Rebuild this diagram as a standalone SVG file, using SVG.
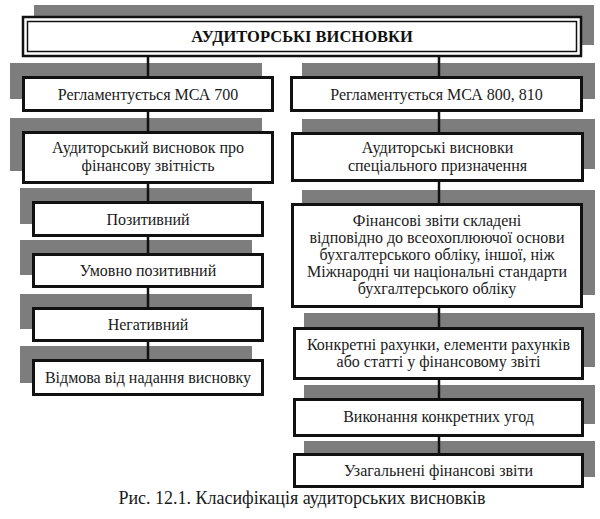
<svg xmlns="http://www.w3.org/2000/svg" width="600" height="519" viewBox="0 0 600 519">
<style>
.sh{fill:#7d7d7d}
.bx{fill:#fff;stroke:#111;stroke-width:3}
text{font-family:'Liberation Serif','Times New Roman',Tinos,'DejaVu Serif','Noto Serif',serif;fill:#1a1a1a;text-anchor:middle}
.t{font-size:16px}
.tb{font-size:16.5px;font-weight:bold;fill:#111}
.cap{font-size:18px}
.ln{stroke:#111;stroke-width:2.5;fill:none}
</style>
<rect width="600" height="519" fill="#fff"/>
<g id="shadows">
<rect class="sh" x="34" y="5" width="560" height="40"/>
<rect class="sh" x="10" y="63" width="252" height="36"/>
<rect class="sh" x="10" y="118" width="252" height="53"/>
<rect class="sh" x="20" y="188" width="232" height="36"/>
<rect class="sh" x="20" y="240" width="232" height="35"/>
<rect class="sh" x="20" y="294" width="232" height="35"/>
<rect class="sh" x="20" y="346" width="232" height="37"/>
<rect class="sh" x="302" y="63" width="293" height="36"/>
<rect class="sh" x="302" y="119" width="293" height="50"/>
<rect class="sh" x="302" y="190" width="293" height="105"/>
<rect class="sh" x="304" y="313" width="291" height="54"/>
<rect class="sh" x="304" y="385" width="291" height="39"/>
<rect class="sh" x="304" y="441" width="291" height="36"/>
</g>
<g id="connectors">
<line class="ln" x1="148" y1="56" x2="148" y2="76"/>
<line class="ln" x1="148" y1="112" x2="148" y2="131"/>
<line class="ln" x1="148" y1="184" x2="148" y2="201"/>
<line class="ln" x1="148" y1="237" x2="148" y2="253"/>
<line class="ln" x1="148" y1="288" x2="148" y2="307"/>
<line class="ln" x1="148" y1="342" x2="148" y2="359"/>
<line class="ln" x1="439" y1="56" x2="439" y2="76"/>
<line class="ln" x1="439" y1="112" x2="439" y2="132"/>
<line class="ln" x1="439" y1="182" x2="439" y2="203"/>
<line class="ln" x1="439" y1="308" x2="439" y2="327"/>
<line class="ln" x1="439" y1="380" x2="439" y2="398"/>
<line class="ln" x1="439" y1="437" x2="439" y2="453"/>
</g>
<g id="title">
<rect x="23" y="17" width="558" height="39" fill="#fff" stroke="#111" stroke-width="2.5"/>
<rect x="27.5" y="21.5" width="549" height="30" fill="none" stroke="#111" stroke-width="1.5"/>
<text class="tb" x="302" y="42">АУДИТОРСЬКІ ВИСНОВКИ</text>
</g>
<g id="l1"><rect class="bx" x="23.5" y="77.5" width="249" height="33"/><text class="t" x="148" y="99.5">Регламентується МСА 700</text></g>
<g id="l2"><rect class="bx" x="23.5" y="132.5" width="249" height="50"/><text class="t" x="148" y="153">Аудиторський висновок про</text><text class="t" x="148" y="171">фінансову звітність</text></g>
<g id="l3"><rect class="bx" x="33.5" y="202.5" width="229" height="33"/><text class="t" x="148" y="224.5">Позитивний</text></g>
<g id="l4"><rect class="bx" x="33.5" y="254.5" width="229" height="32"/><text class="t" x="148" y="276">Умовно позитивний</text></g>
<g id="l5"><rect class="bx" x="33.5" y="308.5" width="229" height="32"/><text class="t" x="148" y="330">Негативний</text></g>
<g id="l6"><rect class="bx" x="33.5" y="360.5" width="229" height="34"/><text class="t" x="148" y="383">Відмова від надання висновку</text></g>
<g id="r1"><rect class="bx" x="291.5" y="77.5" width="290" height="33"/><text class="t" x="436.5" y="99.5">Регламентується МСА 800, 810</text></g>
<g id="r2"><rect class="bx" x="292.5" y="133.5" width="290" height="47"/><text class="t" x="437.5" y="153">Аудиторські висновки</text><text class="t" x="437.5" y="170.5">спеціального призначення</text></g>
<g id="r3"><rect class="bx" x="292.5" y="204.5" width="289" height="102"/>
<text class="t" x="437" y="226">Фінансові звіти складені</text>
<text class="t" x="437" y="243">відповідно до всеохоплюючої  основи</text>
<text class="t" x="437" y="260">бухгалтерського обліку, іншої, ніж</text>
<text class="t" x="437" y="277">Міжнародні чи національні стандарти</text>
<text class="t" x="437" y="294">бухгалтерського обліку</text></g>
<g id="r4"><rect class="bx" x="294.5" y="328.5" width="288" height="50"/><text class="t" x="438.5" y="350">Конкретні рахунки, елементи рахунків</text><text class="t" x="438.5" y="367">або статті у фінансовому звіті</text></g>
<g id="r5"><rect class="bx" x="294.5" y="399.5" width="288" height="36"/><text class="t" x="438.5" y="422">Виконання конкретних угод</text></g>
<g id="r6"><rect class="bx" x="294.5" y="454.5" width="288" height="32"/><text class="t" x="438.5" y="476">Узагальнені фінансові звіти</text></g>
<text class="cap" x="302" y="504">Рис. 12.1. Класифікація аудиторських висновків</text>
</svg>
